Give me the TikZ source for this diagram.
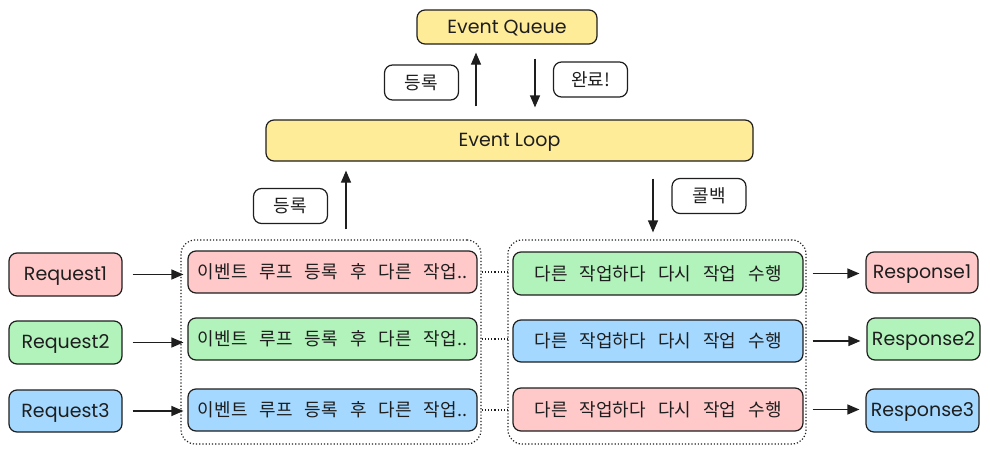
\documentclass[tikz,border=0pt]{standalone}
\usepackage{fontspec}
\setmainfont[WordSpace=3]{Noto Sans CJK KR}
\newfontfamily\latin{Poppins}
\usetikzlibrary{arrows.meta,calc}
\definecolor{ink}{HTML}{1E1E1E}
\definecolor{cyellow}{HTML}{FFEC99}
\definecolor{cpink}{HTML}{FFC9C9}
\definecolor{cgreen}{HTML}{B2F2BB}
\definecolor{cblue}{HTML}{A5D8FF}
\begin{document}
\begin{tikzpicture}[x=1pt,y=-1pt,
  box/.style={draw=ink,line width=1.2pt,rounded corners=8pt,inner sep=0pt,anchor=center,text=ink},
  kor/.style={font=\fontsize{18}{21}\selectfont},
  lat/.style={font=\latin\fontsize{19}{22}\selectfont,text height=15pt,text depth=3pt},
  tag/.style={box,fill=white,minimum width=74pt,minimum height=35pt,kor},
  grp/.style={draw=ink,line width=1.2pt,dotted,rounded corners=14pt},
  arr/.style={draw=ink,line width=1.2pt,-{Triangle[length=12pt,width=10pt]}},
  dots/.style={draw=ink,line width=1.2pt,dotted}]
\useasboundingbox (0,0) rectangle (990,455);
% top
\node[box,fill=cyellow,minimum width=180pt,minimum height=34pt,lat] (queue) at (507,27) {Event Queue};
\node[box,fill=cyellow,minimum width=487pt,minimum height=41pt,lat] (loop) at (509.5,140.5) {Event Loop};
\node[tag] (reg1) at (421.5,82.5) {등록};
\node[tag] (done) at (590.5,79.5) {완료!};
\node[tag] (reg2) at (290.5,206) {등록};
\node[tag] (cb) at (709,196) {콜백};
\coordinate (ax1) at (476,0);
\coordinate (ax2) at (535,0);
\coordinate (ax3) at (346,0);
\coordinate (ax4) at (653,0);
% groups
\node[grp,minimum width=300pt,minimum height=204pt,inner sep=0pt] (gl) at (331,342) {};
\node[grp,minimum width=298pt,minimum height=204pt,inner sep=0pt] (gr) at (657,342) {};
\draw[arr,shorten <=13pt,shorten >=8pt] (loop.north -| ax1) -- (queue.south -| ax1);
\draw[arr,shorten <=14pt,shorten >=12pt] (queue.south -| ax2) -- (loop.north -| ax2);
\draw[arr,shorten <=10pt,shorten >=9pt] (gl.north -| ax3) -- (loop.south -| ax3);
\draw[arr,shorten <=17pt,shorten >=7pt] (loop.south -| ax4) -- (gl.north -| ax4);
% requests
\node[box,fill=cpink,minimum width=113pt,minimum height=43pt,lat] (q1) at (65.5,274.5) {Request1};
\node[box,fill=cgreen,minimum width=113pt,minimum height=43pt,lat] (q2) at (65.5,342.5) {Request2};
\node[box,fill=cblue,minimum width=113pt,minimum height=42pt,lat] (q3) at (65.5,411) {Request3};
% left boxes
\node[box,fill=cpink,minimum width=289pt,minimum height=42pt,kor] (l1) at (332.5,272) {이벤트 루프 등록 후 다른 작업..};
\node[box,fill=cgreen,minimum width=289pt,minimum height=42pt,kor] (l2) at (332.5,339) {이벤트 루프 등록 후 다른 작업..};
\node[box,fill=cblue,minimum width=289pt,minimum height=42pt,kor] (l3) at (332.5,410) {이벤트 루프 등록 후 다른 작업..};
% right boxes
\node[box,fill=cgreen,minimum width=290pt,minimum height=43pt,kor] (r1) at (658,273.5) {다른 작업하다 다시 작업 수행};
\node[box,fill=cblue,minimum width=290pt,minimum height=42pt,kor] (r2) at (658,341) {다른 작업하다 다시 작업 수행};
\node[box,fill=cpink,minimum width=290pt,minimum height=43pt,kor] (r3) at (658,409.5) {다른 작업하다 다시 작업 수행};
% responses
\node[box,fill=cpink,minimum width=112pt,minimum height=41pt,lat] (p1) at (922,272.5) {Response1};
\node[box,fill=cgreen,minimum width=113pt,minimum height=42pt,lat] (p2) at (923.5,339) {Response2};
\node[box,fill=cblue,minimum width=113pt,minimum height=43pt,lat] (p3) at (922.5,410.5) {Response3};
% connectors
\foreach \i in {1,2,3}{
  \draw[arr,shorten <=10pt,shorten >=4pt] (q\i.east) -- (l\i.west |- q\i.east);
  \draw[dots,shorten <=4pt,shorten >=4pt] (l\i.east) -- (r\i.west |- l\i.east);
  \draw[arr,shorten <=9pt,shorten >=6pt] (r\i.east) -- (p\i.west |- r\i.east);
}
\end{tikzpicture}
\end{document}
